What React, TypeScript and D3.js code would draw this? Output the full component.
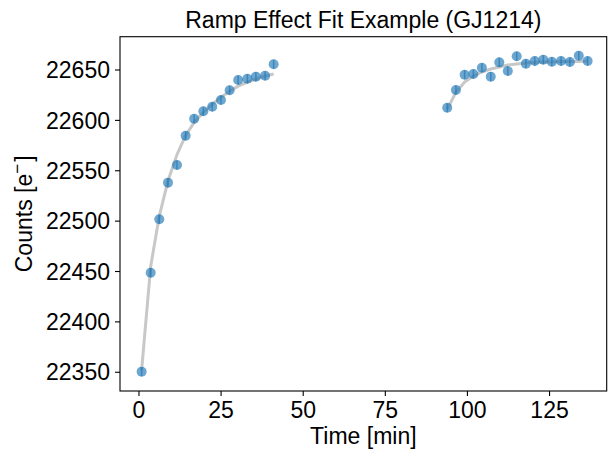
import React from "react";
import * as d3 from "d3";

const times: number[] = [
  0.8, 3.56, 6.18, 8.83, 11.57, 14.2, 16.8, 19.6, 22.3, 24.96, 27.6, 30.2, 33.0, 35.6, 38.4, 41.0,
  93.85, 96.5, 99.15, 101.8, 104.4, 107.1, 109.7, 112.3, 115.0, 117.8, 120.5, 123.1, 125.7, 128.5, 131.2, 133.9, 136.6,
];
const counts: number[] = [
  22350.6, 22448.8, 22501.8, 22538.2, 22555.7, 22584.8, 22601.7, 22609.0, 22613.6, 22620.2, 22629.9, 22640.1, 22641.4, 22643.4, 22644.3, 22655.7,
  22612.6, 22630.2, 22645.3, 22646.0, 22652.3, 22643.4, 22657.6, 22649.0, 22663.6, 22656.3, 22658.9, 22660.2, 22658.2, 22658.9, 22657.9, 22664.2, 22658.9,
];
const errors: number[] = [
  4.5, 4.5, 4.5, 4.5, 4.5, 4.5, 4.5, 4.5, 4.5, 4.5, 4.5, 4.5, 4.5, 4.5, 4.5, 4.5,
  4.5, 4.5, 4.5, 4.5, 4.5, 4.5, 4.5, 4.5, 4.5, 4.5, 4.5, 4.5, 4.5, 4.5, 4.5, 4.5, 4.5,
];
// model fit evaluated at each exposure time, per orbit
const orbit: number[] = [
  1, 1, 1, 1, 1, 1, 1, 1, 1, 1, 1, 1, 1, 1, 1, 1,
  2, 2, 2, 2, 2, 2, 2, 2, 2, 2, 2, 2, 2, 2, 2, 2, 2,
];
const fitValues: number[] = [
  22352, 22455, 22505, 22540, 22566, 22585, 22598, 22608, 22616, 22623, 22629, 22634, 22638, 22641, 22644, 22646,
  22611, 22628, 22638, 22644, 22648, 22651, 22653, 22655, 22656, 22657, 22657.5, 22658, 22658, 22658.5, 22658.5, 22658.5, 22659,
];
const xTicks: number[] = [0, 25, 50, 75, 100, 125];
const yTicks: number[] = [22350, 22400, 22450, 22500, 22550, 22600, 22650];

const W = 612;
const H = 449;
const FONT = "'Liberation Sans', Arial, Helvetica, sans-serif";
const BLUE = "#1f77b4";

export default function App() {
  const left = 120, right = 606.7, top = 36.7, bottom = 391;
  const x = d3.scaleLinear().domain([-5.78, 142.4]).range([left, right]);
  const y = d3.scaleLinear().domain([22331.4, 22683.05]).range([bottom, top]);

  const pts = times.map((t, i) => ({ t, c: counts[i], e: errors[i], o: orbit[i], f: fitValues[i] }));
  const line = d3.line<{ t: number; f: number }>().x((d) => x(d.t)).y((d) => y(d.f));
  const orbits = Array.from(d3.group(pts, (d) => d.o).values());

  return (
    <svg width={W} height={H} style={{ position: "absolute", left: 0, top: 0, background: "#fff" }} fontFamily={FONT}>
      <rect x={0} y={0} width={W} height={H} fill="#fff" />
      {orbits.map((o, i) => (
        <path key={i} d={line(o) || ""} fill="none" stroke="#c8c8c8" strokeWidth={3} strokeLinejoin="round" />
      ))}
      {pts.map((d, i) => (
        <line key={i} x1={x(d.t)} x2={x(d.t)} y1={y(d.c - d.e)} y2={y(d.c + d.e)} stroke={BLUE} strokeWidth={1.5} opacity={0.65} />
      ))}
      {pts.map((d, i) => (
        <circle key={i} cx={x(d.t)} cy={y(d.c)} r={5} fill={BLUE} opacity={0.65} />
      ))}
      <rect x={left} y={top} width={right - left} height={bottom - top} fill="none" stroke="#000" strokeWidth={1.1} />
      {xTicks.map((t) => (
        <g key={t}>
          <line x1={x(t)} x2={x(t)} y1={bottom} y2={bottom + 5} stroke="#000" strokeWidth={1.1} />
          <text x={x(t)} y={418} textAnchor="middle" fontSize={23} fill="#000">{t}</text>
        </g>
      ))}
      {yTicks.map((t) => (
        <g key={t}>
          <line x1={left - 5} x2={left} y1={y(t)} y2={y(t)} stroke="#000" strokeWidth={1.1} />
          <text x={110} y={y(t) + 8.2} textAnchor="end" fontSize={23} fill="#000">{t}</text>
        </g>
      ))}
      <text x={(left + right) / 2} y={444} textAnchor="middle" fontSize={23} fill="#000">Time [min]</text>
      <text transform={`translate(32,${(top + bottom) / 2}) rotate(-90)`} textAnchor="middle" fontSize={23} fill="#000">
        Counts [e<tspan dy={-9} fontSize={17}>−</tspan><tspan dy={9} dx={2}>]</tspan>
      </text>
      <text x={(left + right) / 2} y={28} textAnchor="middle" fontSize={23} fill="#000">Ramp Effect Fit Example (GJ1214)</text>
    </svg>
  );
}
